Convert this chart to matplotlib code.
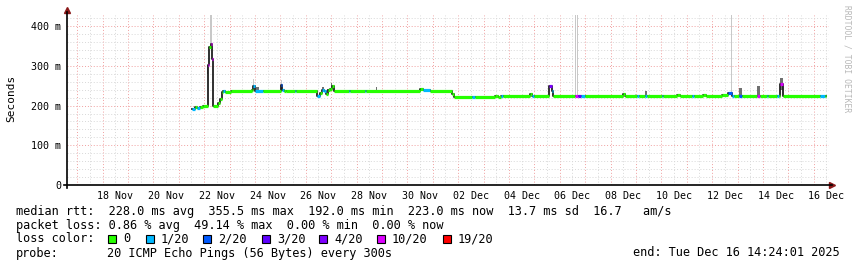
import numpy as np
import matplotlib
matplotlib.use("Agg")
import matplotlib.pyplot as plt
from matplotlib.patches import Rectangle

# days since 2025-11-16 00:00, median rtt (ms), lost pings out of 20
med_day = [5.52, 5.64, 5.72, 5.84, 5.95, 6.15, 6.19, 6.25, 6.31, 6.36,
           6.54, 6.62, 6.70, 6.76, 6.82, 7.06, 7.88, 7.92, 8.00, 8.32,
           9.01, 9.05, 9.08, 9.14, 9.22, 9.58, 9.62, 10.44, 10.56, 10.64,
           10.72, 10.80, 10.88, 10.95, 11.03, 11.11, 11.70, 11.74, 12.33, 12.39,
           14.50, 14.62, 14.89, 15.76, 15.82, 16.53, 16.66, 17.45, 17.57, 17.69,
           17.77, 18.83, 18.91, 18.99, 19.59, 19.68, 19.73, 20.60, 20.70, 20.82,
           20.99, 22.49, 22.57, 23.03, 23.13, 23.36, 23.43, 24.01, 24.06, 24.60,
           24.73, 25.19, 25.29, 25.64, 25.76, 26.38, 26.64, 26.77, 26.86, 27.06,
           27.16, 27.75, 27.88, 28.15, 28.21, 28.54, 28.64, 28.69, 28.77, 28.80,
           30.25, 30.44]
med_ms = [192, 196, 193, 196, 199, 302, 348, 356, 318, 199,
          206, 216, 234, 236, 235, 237, 240, 250, 237, 237,
          252, 244, 238, 237, 236, 236, 236, 225, 232, 240,
          236, 230, 238, 242, 250, 236, 236, 236, 236, 236,
          242, 239, 236, 230, 222, 222, 222, 225, 222, 224,
          224, 229, 224, 224, 250, 236, 224, 223, 223, 223,
          223, 228, 223, 223, 223, 223, 223, 223, 223, 227,
          223, 223, 223, 227, 223, 226, 231, 223, 223, 223,
          223, 223, 223, 223, 223, 223, 223, 254, 240, 223,
          223, 223]
med_loss = [1, 0, 1, 0, 0, 10, 0, 10, 10, 0,
            0, 0, 0, 1, 0, 0, 0, 1, 1, 0,
            2, 0, 1, 0, 0, 1, 0, 1, 0, 1,
            1, 0, 0, 0, 0, 0, 1, 0, 1, 0,
            0, 1, 0, 0, 0, 1, 0, 0, 0, 1,
            0, 0, 1, 0, 4, 1, 0, 10, 3, 1,
            0, 0, 0, 1, 0, 1, 0, 1, 0, 0,
            0, 1, 0, 0, 0, 0, 2, 1, 0, 2,
            0, 10, 0, 1, 0, 1, 0, 10, 0, 0,
            1, 0]
last_day = 30.48

# smoke (ping spread): time span, low / high rtt in ms, 1 = dark shade
smoke_from = [6.13, 6.23, 7.94, 8.06, 9.01, 10.64, 10.84, 11.01, 12.77, 14.69,
              14.85, 18.83, 20.60, 20.69, 22.96, 23.36, 26.74, 27.06, 27.75, 28.67]
smoke_to = [6.17, 6.29, 7.98, 8.14, 9.05, 10.72, 10.92, 11.05, 12.81, 14.77,
            14.97, 18.91, 20.64, 20.73, 23.00, 23.43, 26.78, 27.16, 27.88, 28.79]
smoke_lo = [280, 356, 250, 237, 252, 236, 236, 250, 236, 236,
            236, 224, 224, 224, 224, 224, 224, 224, 224, 240]
smoke_hi = [302, 428, 268, 247, 265, 247, 241, 256, 246, 241,
            240, 229, 428, 428, 229, 237, 428, 244, 249, 270]
smoke_dark = [1, 0, 0, 1, 0, 1, 1, 1, 1, 1,
              1, 1, 0, 0, 0, 1, 0, 1, 1, 1]

loss_steps = [0, 1, 2, 3, 4, 10, 19]
loss_names = ['0', '1/20', '2/20', '3/20', '4/20', '10/20', '19/20']
loss_colors = ['#26ff00', '#00b8ff', '#0059ff', '#5e00ff', '#7e00ff', '#dd00ff', '#ff0000']

label_days = [2, 4, 6, 8, 10, 12, 14, 16, 18, 20, 22, 24, 26, 28, 30]
day_labels = ['18 Nov', '20 Nov', '22 Nov', '24 Nov', '26 Nov', '28 Nov', '30 Nov',
              '02 Dec', '04 Dec', '06 Dec', '08 Dec', '10 Dec', '12 Dec', '14 Dec', '16 Dec']
y_ticks = [0, 100, 200, 300, 400]
y_labels = ['0', '100 m', '200 m', '300 m', '400 m']

W, H = 857, 267
plt.rcParams['font.family'] = ['DejaVu Sans Mono']


def px(x, y):
    return x / W, 1 - y / H


fig = plt.figure(figsize=(W / 100, H / 100), dpi=100)
ax = fig.add_axes([67 / W, 1 - 185 / H, (829 - 67) / W, (185 - 15) / H])
ax.set_xlim(0.6, 30.6)
ax.set_ylim(0, 428)
for s in ax.spines.values():
    s.set_visible(False)

# grid
dots = (0, (1, 2))
for d in range(1, 31):
    ax.axvline(d - 0.5, color='#d8d8d8', lw=0.7, ls=dots, zorder=0)
    ax.axvline(d, color='#f0a0a0', lw=0.7, ls=dots, zorder=0)
ax.axvline(30.5, color='#d8d8d8', lw=0.7, ls=dots, zorder=0)
for v in range(20, 428, 20):
    c = '#f0a0a0' if v % 100 == 0 else '#d8d8d8'
    ax.axhline(v, color=c, lw=0.7, ls=dots, zorder=0)

# smoke
for f, t, lo, hi, dk in zip(smoke_from, smoke_to, smoke_lo, smoke_hi, smoke_dark):
    ax.bar(f, hi - lo, bottom=lo, width=t - f, align='edge',
           color='#707070' if dk else '#c8c8c8', lw=0, zorder=1)

# median line
xs = np.array(med_day + [last_day])
ys = np.array(med_ms + [med_ms[-1]])
ax.step(xs, ys, where='post', color='#202020', lw=1.3, zorder=2)
col_of = dict(zip(loss_steps, loss_colors))
ax.hlines(med_ms, xs[:-1], xs[1:], colors=[col_of[l] for l in med_loss],
          lw=2.3, zorder=3, capstyle='butt')

# axes with arrows
ax.plot([-0.004, 1.004], [0, 0], color='black', lw=1.2, transform=ax.transAxes, clip_on=False, zorder=5)
ax.plot([0, 0], [-0.018, 1.02], color='black', lw=1.2, transform=ax.transAxes, clip_on=False, zorder=5)
ax.plot([0], [1.03], marker='^', ms=4, color='#8b1a1a', transform=ax.transAxes, clip_on=False)
ax.plot([1.004], [0], marker='>', ms=4, color='#8b1a1a', transform=ax.transAxes, clip_on=False)

ax.set_xticks([d + 0.5 for d in label_days], day_labels, fontsize=7.2)
ax.set_yticks(y_ticks, y_labels, fontsize=7.2)
ax.tick_params(length=0, pad=4)

fig.text(*px(11, 98), 'Seconds', rotation=90, ha='center', va='center', fontsize=8)
fig.text(*px(847, 59), 'RRDTOOL / TOBI OETIKER', rotation=270, ha='center', va='center',
         fontsize=5.8, color='#b8b8b8')

# legend
fs = 8.52
fig.text(*px(16, 212), 'median rtt:  228.0 ms avg  355.5 ms max  192.0 ms min  223.0 ms now  13.7 ms sd  16.7   am/s',
         fontsize=fs, va='center')
fig.text(*px(16, 225), 'packet loss: 0.86 % avg  49.14 % max  0.00 % min  0.00 % now',
         fontsize=fs, va='center')
fig.text(*px(16, 239), 'loss color:', fontsize=fs, va='center')
box_x = [108, 146, 203, 262, 319, 377, 443]
for bx, name, c in zip(box_x, loss_names, loss_colors):
    fig.add_artist(Rectangle(px(bx, 243), 8 / W, 8 / H, transform=fig.transFigure,
                             facecolor=c, edgecolor='black', lw=0.8))
    fig.text(*px(bx + 15, 239), name, fontsize=fs, va='center')
fig.text(*px(16, 253), 'probe:', fontsize=fs, va='center')
fig.text(*px(107, 253), '20 ICMP Echo Pings (56 Bytes) every 300s', fontsize=fs, va='center')
fig.text(*px(840, 253), 'end: Tue Dec 16 14:24:01 2025', fontsize=fs, va='center', ha='right')

fig.savefig('out.png', dpi=100, facecolor='white')
